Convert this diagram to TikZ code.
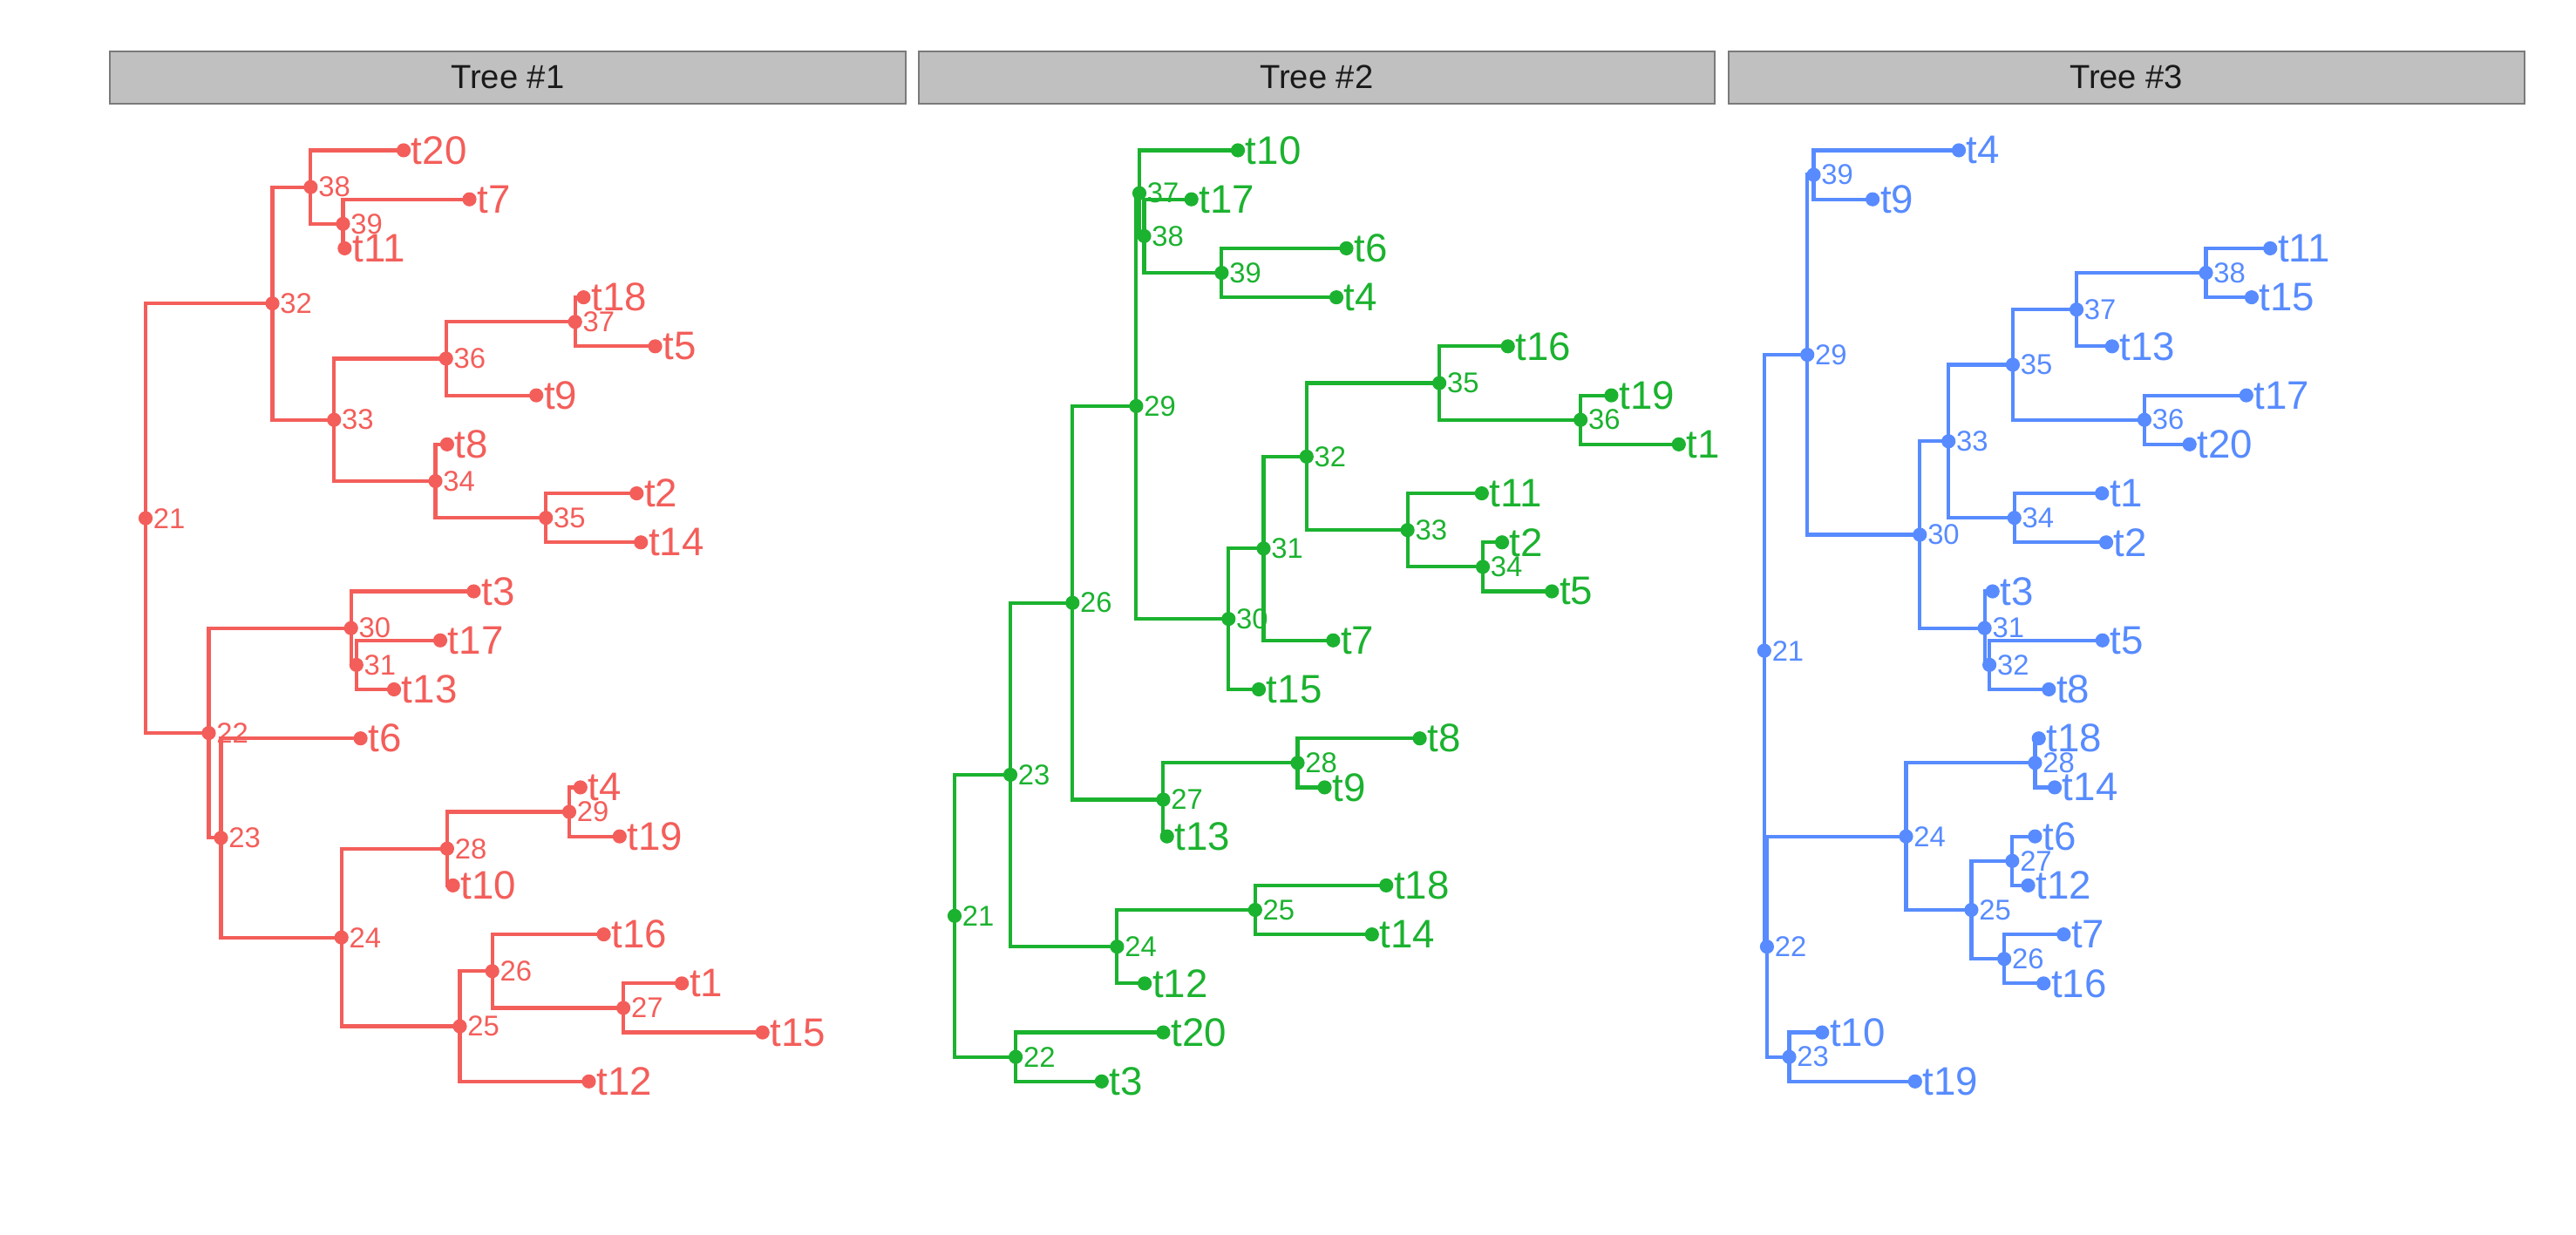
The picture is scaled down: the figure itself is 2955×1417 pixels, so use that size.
\documentclass[tikz,border=0pt]{standalone}
\usepackage{fontspec}
\setmainfont{Liberation Sans}
\usepackage{tikz}
\definecolor{treeA}{RGB}{243,94,90}
\definecolor{treeB}{RGB}{27,178,47}
\definecolor{treeC}{RGB}{87,139,255}
\definecolor{stripfill}{RGB}{192,192,192}
\definecolor{stripline}{RGB}{122,122,122}
\definecolor{striptext}{RGB}{26,26,26}
\newcommand{\tipfont}{\fontsize{11}{13}\selectfont}
\newcommand{\numfont}{\fontsize{7.9}{9}\selectfont}
\newcommand{\headfont}{\fontsize{9.2}{11}\selectfont}
\tikzset{
	dot/.style={circle, fill, inner sep=0pt, outer sep=0pt, minimum size=3.9pt},
	leaf/.style={dot, label distance=1.6pt, label={[font=\tipfont, inner sep=0pt]right:#1}},
	junction/.style={dot, label distance=0pt, label={[font=\numfont, inner sep=0pt]right:#1}},
	strip/.style={draw=stripline, fill=stripfill, line width=0.5pt, text=striptext, font=\headfont, minimum width=7.733cm, minimum height=0.5055cm, inner sep=0pt},
	branch/.style={line width=1pt},
	treescope/.style={y=-0.476167cm, yshift=-0.984338cm, color=#1}
}
\begin{document}
\begin{tikzpicture}[x=0.0084667cm, y=-0.0084667cm]
		\useasboundingbox (0,0) rectangle (2955,1417);

		\node[strip] (h1) at (582.3,88.85) {Tree \#1};
		\node[strip] (h2) at (1510.3,88.85) {Tree \#2};
		\node[strip] (h3) at (2439.15,88.85) {Tree \#3};

		% tree 1
		\begin{scope}[treescope=treeA]
		\path (167,8.5078) node[junction=21] (a21) {}
		(312.5,4.125) node[junction=32] (a32) {}
		(356.4,1.75) node[junction=38] (a38) {}
		(393.5,2.5) node[junction=39] (a39) {}
		(383.2,6.5) node[junction=33] (a33) {}
		(511.7,5.25) node[junction=36] (a36) {}
		(659.7,4.5) node[junction=37] (a37) {}
		(499.5,7.75) node[junction=34] (a34) {}
		(626.2,8.5) node[junction=35] (a35) {}
		(239.5,12.8906) node[junction=22] (a22) {}
		(402.7,10.75) node[junction=30] (a30) {}
		(408.8,11.5) node[junction=31] (a31) {}
		(253.5,15.0313) node[junction=23] (a23) {}
		(391.7,17.0625) node[junction=24] (a24) {}
		(512.9,15.25) node[junction=28] (a28) {}
		(653,14.5) node[junction=29] (a29) {}
		(527.5,18.875) node[junction=25] (a25) {}
		(564.7,17.75) node[junction=26] (a26) {}
		(715.1,18.5) node[junction=27] (a27) {};

		\path (463,1) node[leaf=t20] (at20) {}
		(538.5,2) node[leaf=t7] (at7) {}
		(395.4,3) node[leaf=t11] (at11) {}
		(669.4,4) node[leaf=t18] (at18) {}
		(751.6,5) node[leaf=t5] (at5) {}
		(615.2,6) node[leaf=t9] (at9) {}
		(512.9,7) node[leaf=t8] (at8) {}
		(730.3,8) node[leaf=t2] (at2) {}
		(735.2,9) node[leaf=t14] (at14) {}
		(543.4,10) node[leaf=t3] (at3) {}
		(505,11) node[leaf=t17] (at17) {}
		(452,12) node[leaf=t13] (at13) {}
		(413.6,13) node[leaf=t6] (at6) {}
		(665.8,14) node[leaf=t4] (at4) {}
		(710.8,15) node[leaf=t19] (at19) {}
		(519.6,16) node[leaf=t10] (at10) {}
		(692.6,17) node[leaf=t16] (at16) {}
		(782.1,18) node[leaf=t1] (at1) {}
		(874.7,19) node[leaf=t15] (at15) {}
		(675.5,20) node[leaf=t12] (at12) {};

		\draw[branch] (a32.center) -| (a21.center) |- (a22.center)
		(a38.center) -| (a32.center) |- (a33.center)
		(at20.center) -| (a38.center) |- (a39.center)
		(at7.center) -| (a39.center) |- (at11.center)
		(a36.center) -| (a33.center) |- (a34.center)
		(a37.center) -| (a36.center) |- (at9.center)
		(at18.center) -| (a37.center) |- (at5.center)
		(at8.center) -| (a34.center) |- (a35.center)
		(at2.center) -| (a35.center) |- (at14.center)
		(a30.center) -| (a22.center) |- (a23.center)
		(at3.center) -| (a30.center) |- (a31.center)
		(at17.center) -| (a31.center) |- (at13.center)
		(at6.center) -| (a23.center) |- (a24.center)
		(a28.center) -| (a24.center) |- (a25.center)
		(a29.center) -| (a28.center) |- (at10.center)
		(at4.center) -| (a29.center) |- (at19.center)
		(a26.center) -| (a25.center) |- (at12.center)
		(at16.center) -| (a26.center) |- (a27.center)
		(at1.center) -| (a27.center) |- (at15.center);
		\end{scope}

		% tree 2
		\begin{scope}[treescope=treeB]
		\path (1095,16.6211) node[junction=21] (b21) {}
		(1159,13.7422) node[junction=23] (b23) {}
		(1230.3,10.2344) node[junction=26] (b26) {}
		(1303.4,6.2188) node[junction=29] (b29) {}
		(1307,1.875) node[junction=37] (b37) {}
		(1312.5,2.75) node[junction=38] (b38) {}
		(1401.4,3.5) node[junction=39] (b39) {}
		(1409.3,10.5625) node[junction=30] (b30) {}
		(1449.5,9.125) node[junction=31] (b31) {}
		(1498.8,7.25) node[junction=32] (b32) {}
		(1651.1,5.75) node[junction=35] (b35) {}
		(1813.1,6.5) node[junction=36] (b36) {}
		(1614.6,8.75) node[junction=33] (b33) {}
		(1701,9.5) node[junction=34] (b34) {}
		(1334.4,14.25) node[junction=27] (b27) {}
		(1488.5,13.5) node[junction=28] (b28) {}
		(1281.4,17.25) node[junction=24] (b24) {}
		(1439.8,16.5) node[junction=25] (b25) {}
		(1165.1,19.5) node[junction=22] (b22) {};

		\path (1420,1) node[leaf=t10] (bt10) {}
		(1366.7,2) node[leaf=t17] (bt17) {}
		(1544.5,3) node[leaf=t6] (bt6) {}
		(1533,4) node[leaf=t4] (bt4) {}
		(1729.7,5) node[leaf=t16] (bt16) {}
		(1848.4,6) node[leaf=t19] (bt19) {}
		(1925.8,7) node[leaf=t1] (bt1) {}
		(1699.8,8) node[leaf=t11] (bt11) {}
		(1723,9) node[leaf=t2] (bt2) {}
		(1780.2,10) node[leaf=t5] (bt5) {}
		(1529.3,11) node[leaf=t7] (bt7) {}
		(1444,12) node[leaf=t15] (bt15) {}
		(1628.6,13) node[leaf=t8] (bt8) {}
		(1519.5,14) node[leaf=t9] (bt9) {}
		(1338.7,15) node[leaf=t13] (bt13) {}
		(1590.2,16) node[leaf=t18] (bt18) {}
		(1573.8,17) node[leaf=t14] (bt14) {}
		(1313.1,18) node[leaf=t12] (bt12) {}
		(1334.4,19) node[leaf=t20] (bt20) {}
		(1263.8,20) node[leaf=t3] (bt3) {};

		\draw[branch] (b23.center) -| (b21.center) |- (b22.center)
		(b26.center) -| (b23.center) |- (b24.center)
		(b29.center) -| (b26.center) |- (b27.center)
		(b37.center) -| (b29.center) |- (b30.center)
		(bt10.center) -| (b37.center) |- (b38.center)
		(bt17.center) -| (b38.center) |- (b39.center)
		(bt6.center) -| (b39.center) |- (bt4.center)
		(b31.center) -| (b30.center) |- (bt15.center)
		(b32.center) -| (b31.center) |- (bt7.center)
		(b35.center) -| (b32.center) |- (b33.center)
		(bt16.center) -| (b35.center) |- (b36.center)
		(bt19.center) -| (b36.center) |- (bt1.center)
		(bt11.center) -| (b33.center) |- (b34.center)
		(bt2.center) -| (b34.center) |- (bt5.center)
		(b28.center) -| (b27.center) |- (bt13.center)
		(bt8.center) -| (b28.center) |- (bt9.center)
		(b25.center) -| (b24.center) |- (bt12.center)
		(bt18.center) -| (b25.center) |- (bt14.center)
		(bt20.center) -| (b22.center) |- (bt3.center);
		\end{scope}

		% tree 3
		\begin{scope}[treescope=treeC]
		\path (2023.8,11.2109) node[junction=21] (c21) {}
		(2073.2,5.1719) node[junction=29] (c29) {}
		(2080.5,1.5) node[junction=39] (c39) {}
		(2202.3,8.8438) node[junction=30] (c30) {}
		(2235.2,6.9375) node[junction=33] (c33) {}
		(2308.9,5.375) node[junction=35] (c35) {}
		(2382,4.25) node[junction=37] (c37) {}
		(2530.5,3.5) node[junction=38] (c38) {}
		(2459.9,6.5) node[junction=36] (c36) {}
		(2310.7,8.5) node[junction=34] (c34) {}
		(2276.6,10.75) node[junction=31] (c31) {}
		(2282.1,11.5) node[junction=32] (c32) {}
		(2026.9,17.25) node[junction=22] (c22) {}
		(2186.5,15) node[junction=24] (c24) {}
		(2334.4,13.5) node[junction=28] (c28) {}
		(2261.4,16.5) node[junction=25] (c25) {}
		(2308.3,15.5) node[junction=27] (c27) {}
		(2299.1,17.5) node[junction=26] (c26) {}
		(2052.5,19.5) node[junction=23] (c23) {};

		\path (2247,1) node[leaf=t4] (ct4) {}
		(2148.1,2) node[leaf=t9] (ct9) {}
		(2604.2,3) node[leaf=t11] (ct11) {}
		(2582.9,4) node[leaf=t15] (ct15) {}
		(2422.8,5) node[leaf=t13] (ct13) {}
		(2576.8,6) node[leaf=t17] (ct17) {}
		(2511.7,7) node[leaf=t20] (ct20) {}
		(2411.2,8) node[leaf=t1] (ct1) {}
		(2416,9) node[leaf=t2] (ct2) {}
		(2285.7,10) node[leaf=t3] (ct3) {}
		(2411.8,11) node[leaf=t5] (ct5) {}
		(2350.3,12) node[leaf=t8] (ct8) {}
		(2338.7,13) node[leaf=t18] (ct18) {}
		(2357,14) node[leaf=t14] (ct14) {}
		(2334.4,15) node[leaf=t6] (ct6) {}
		(2326.5,16) node[leaf=t12] (ct12) {}
		(2367.3,17) node[leaf=t7] (ct7) {}
		(2344.2,18) node[leaf=t16] (ct16) {}
		(2090.2,19) node[leaf=t10] (ct10) {}
		(2196.8,20) node[leaf=t19] (ct19) {};

		\draw[branch] (c29.center) -| (c21.center) |- (c22.center)
		(c39.center) -| (c29.center) |- (c30.center)
		(ct4.center) -| (c39.center) |- (ct9.center)
		(c33.center) -| (c30.center) |- (c31.center)
		(c35.center) -| (c33.center) |- (c34.center)
		(c37.center) -| (c35.center) |- (c36.center)
		(c38.center) -| (c37.center) |- (ct13.center)
		(ct11.center) -| (c38.center) |- (ct15.center)
		(ct17.center) -| (c36.center) |- (ct20.center)
		(ct1.center) -| (c34.center) |- (ct2.center)
		(ct3.center) -| (c31.center) |- (c32.center)
		(ct5.center) -| (c32.center) |- (ct8.center)
		(c24.center) -| (c22.center) |- (c23.center)
		(c28.center) -| (c24.center) |- (c25.center)
		(ct18.center) -| (c28.center) |- (ct14.center)
		(c27.center) -| (c25.center) |- (c26.center)
		(ct6.center) -| (c27.center) |- (ct12.center)
		(ct7.center) -| (c26.center) |- (ct16.center)
		(ct10.center) -| (c23.center) |- (ct19.center);
		\end{scope}

	\end{tikzpicture}
\end{document}
